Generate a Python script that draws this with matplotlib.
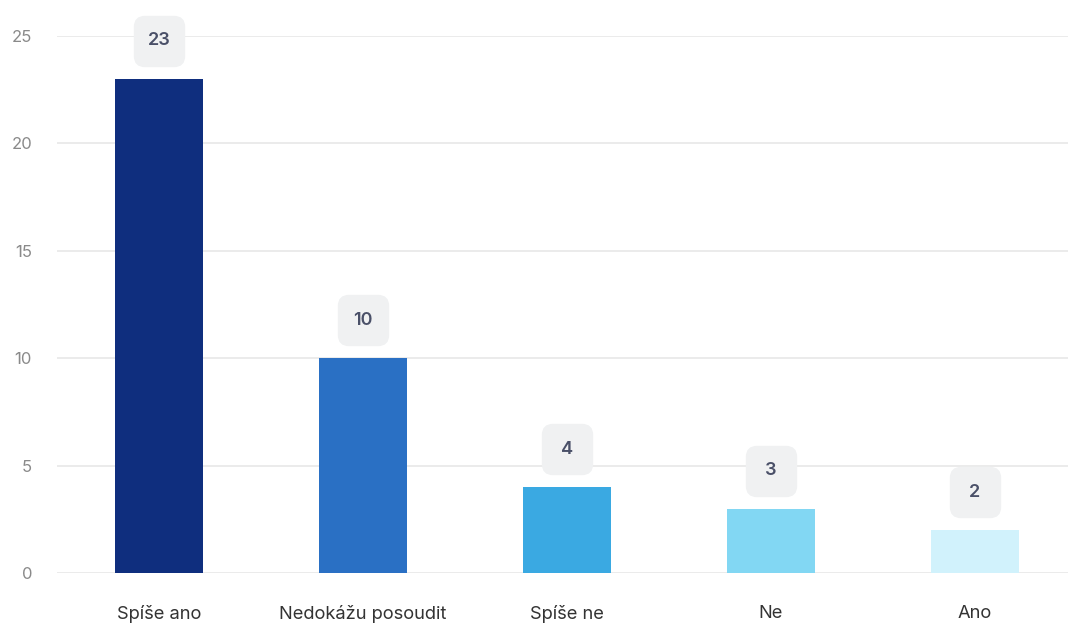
import matplotlib as mpl
mpl.use('agg')
import matplotlib.pyplot as plt
from matplotlib.patches import FancyBboxPatch
from matplotlib.transforms import offset_copy

categories = ['Spíše ano', 'Nedokážu posoudit', 'Spíše ne', 'Ne', 'Ano']
counts = [23, 10, 4, 3, 2]
colors = ['#0f2e7e', '#2a70c4', '#3aa9e2', '#82d7f3', '#d1f2fc']
yticks = [0, 5, 10, 15, 20, 25]

plt.rcParams['font.family'] = ['Inter', 'DejaVu Sans']

fig = plt.figure(figsize=(10.68, 6.23), dpi=100)
ax = fig.add_axes([0.0534, 0.0803, 0.955, 0.8619])

x = list(range(len(categories)))
ax.bar(x, counts, width=0.43, color=colors, zorder=2)

ax.set_xlim(-0.5, len(categories) - 0.5)
ax.set_ylim(0, 25)
ax.set_yticks(yticks)
ax.set_xticks(x)
ax.set_xticklabels(categories, fontsize=13.2, color='#333333')
ax.tick_params(axis='both', length=0)
ax.tick_params(axis='x', pad=23)
ax.tick_params(axis='y', labelsize=12, labelcolor='#8a8a8a', pad=18)
ax.grid(axis='y', color='#e8e8e8', linewidth=1.2, zorder=0)
for spine in ax.spines.values():
    spine.set_visible(False)

# rounded square marker for value badges
box = FancyBboxPatch((-0.5, -0.5), 1, 1, boxstyle='round,pad=0,rounding_size=0.22')
box_marker = box.get_path()

lift = offset_copy(ax.transData, fig=fig, x=0, y=38, units='dots')
ax.plot(x, counts, linestyle='none', marker=box_marker, markersize=37,
        markerfacecolor='#f0f1f2', markeredgecolor='none', transform=lift,
        clip_on=False, zorder=3)
for xi, c in zip(x, counts):
    ax.text(xi, c, str(c), transform=lift, ha='center', va='center',
            fontsize=13, fontweight='semibold', color='#4a5068', zorder=4,
            clip_on=False)

fig.savefig('out.png', dpi=100)
